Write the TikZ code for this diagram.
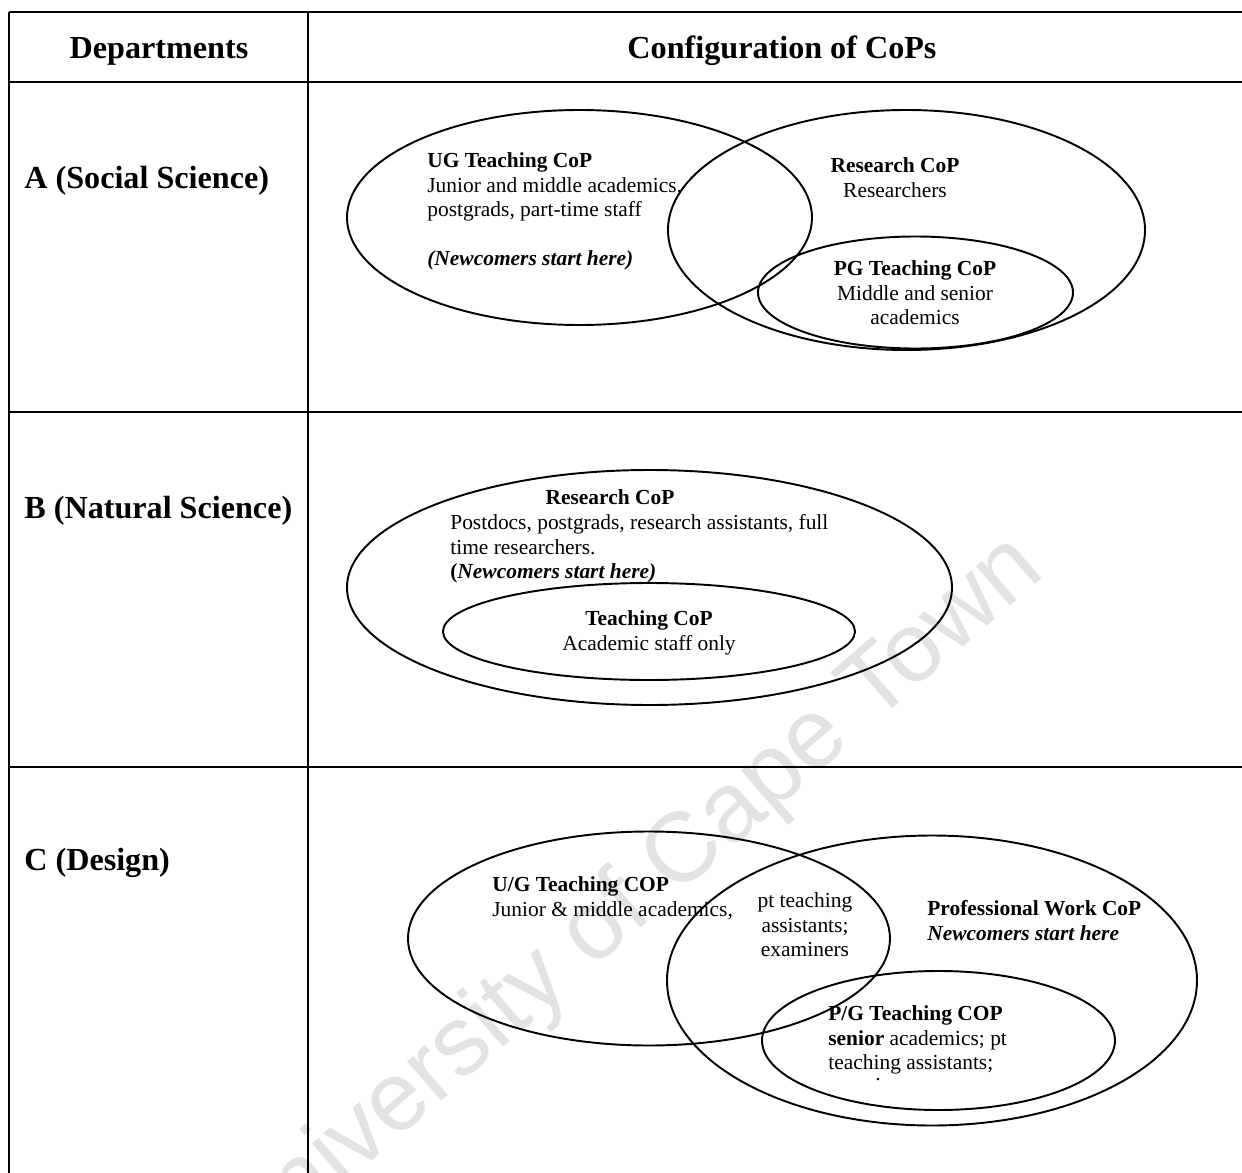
\documentclass[tikz,border=0pt]{standalone}
\usepackage{fontspec}
\setmainfont{Liberation Serif}
\setsansfont{Liberation Sans}
\begin{document}
\begin{tikzpicture}[x=0.02cm,y=-0.02cm,
  rule/.style={line width=0.85pt, black},
  cop/.style={line width=1.1pt, black},
  body/.style={inner sep=0pt, font=\fontsize{12.2}{13.95}\selectfont},
  head/.style={inner sep=0pt, font=\fontsize{18.3}{20}\selectfont\bfseries},
  stamp/.style={inner sep=0pt, text=black!11, font=\fontsize{56}{60}\selectfont\sffamily}]
\useasboundingbox (0,0) rectangle (1242,1173);
\fill[white] (0,0) rectangle (1242,1173);

% background stamp
\node[stamp, rotate=41] (stamptext) at (630,903) {University of Cape Town};

% table rules
\draw[rule] (9,12) -- (1242,12);
\draw[rule] (9,82) -- (1242,82);
\draw[rule] (9,412) -- (1242,412);
\draw[rule] (9,767) -- (1242,767);
\draw[rule] (9,12) -- (9,1173);
\draw[rule] (308,12) -- (308,1173);

% header row
\node[head, anchor=base] (hdep) at (159,58.6) {Departments};
\node[head, anchor=base] (hcfg) at (782,58.6) {Configuration of CoPs};

% department labels
\node[head, anchor=base west] (deptA) at (24,188.6) {A (Social Science)};
\node[head, anchor=base west] (deptB) at (24,518.6) {B (Natural Science)};
\node[head, anchor=base west] (deptC) at (24,870.6) {C (Design)};

% ---- A: Social Science ----
\draw[cop] (579.5,217.5) ellipse [x radius=232.5, y radius=107.5];
\draw[cop] (906.5,230) ellipse [x radius=238.5, y radius=120];
\draw[cop] (915.5,292.5) ellipse [x radius=157.5, y radius=56];

\node[body, anchor=north west, align=left] (ugA) at (427,152.5)
  {\textbf{UG Teaching CoP}\\Junior and middle academics,\\postgrads, part-time staff\\~\\\textbf{\textit{(Newcomers start here)}}};
\node[body, anchor=north, align=center] (resA) at (895,157.5)
  {\textbf{Research CoP}\\Researchers};
\node[body, anchor=north, align=center] (pgA) at (915,260.5)
  {\textbf{PG Teaching CoP}\\Middle and senior\\academics};

% ---- B: Natural Science ----
\draw[cop] (649.5,587.5) ellipse [x radius=302.5, y radius=117.5];
\draw[cop] (649,631.5) ellipse [x radius=206, y radius=48.5];

\node[body, anchor=north] (resBt) at (610,489.5) {\textbf{Research CoP}};
\node[body, anchor=north west, align=left] (resB) at (450,514.5)
  {Postdocs, postgrads, research assistants, full\\time researchers.\\\textbf{(}\textbf{\textit{Newcomers start here)}}};
\node[body, anchor=north, align=center] (teachB) at (649,610.5)
  {\textbf{Teaching CoP}\\Academic staff only};

% ---- C: Design ----
\draw[cop] (649,938.5) ellipse [x radius=241, y radius=107];
\draw[cop] (932,980.5) ellipse [x radius=265, y radius=145];
\draw[cop] (938.5,1040.5) ellipse [x radius=176.5, y radius=69.5];

\node[body, anchor=north west, align=left] (ugC) at (492,876.5)
  {\textbf{U/G Teaching COP}\\Junior \& middle academics,};
\node[body, anchor=north, align=center] (ptC) at (805,892.5)
  {pt teaching\\assistants;\\examiners};
\node[body, anchor=north west, align=left] (proC) at (927,900.5)
  {\textbf{Professional Work CoP}\\\textbf{\textit{Newcomers start here}}};
\node[body, anchor=north west, align=left] (pgC) at (828,1005.5)
  {\textbf{P/G Teaching COP}\\\textbf{senior} academics; pt\\teaching assistants;};
\node[body, anchor=base] (dotC) at (878,1080) {.};
\end{tikzpicture}
\end{document}
